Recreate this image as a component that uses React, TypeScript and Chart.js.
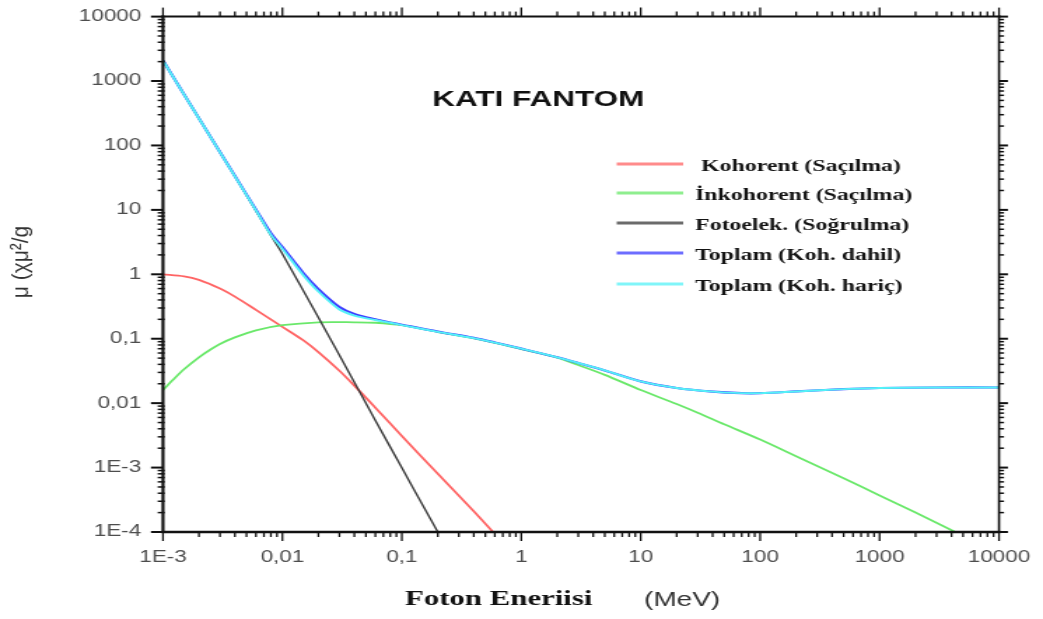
import React, { useEffect, useRef } from "react";
import { Chart, registerables } from "chart.js";

Chart.register(...registerables);

// The reference picture is stretched horizontally; the canvas is drawn narrower and stretched by CSS.
const STRETCH = 1.4;
const PAGE_W = 1043;
const PAGE_H = 619;
const CANVAS_W = Math.round(PAGE_W / STRETCH);

const chartTitle = "KATI FANTOM";
const xTitleMain = "Foton Eneriisi";
const xTitleUnit = "(MeV)";
const yTitle = "μ (χμ²/g";

const xTickValues = [1e-3, 1e-2, 1e-1, 1, 10, 100, 1000, 10000];
const xTickLabels = ["1E-3", "0,01", "0,1", "1", "10", "100", "1000", "10000"];
const yTickValues = [1e-4, 1e-3, 1e-2, 1e-1, 1, 10, 100, 1000, 10000];
const yTickLabels = ["1E-4", "1E-3", "0,01", "0,1", "1", "10", "100", "1000", "10000"];

const seriesLabels = [
  " Kohorent (Saçılma)",
  "İnkohorent (Saçılma)",
  "Fotoelek. (Soğrulma)",
  "Toplam (Koh. dahil)",
  "Toplam (Koh. hariç)",
];
const seriesColors = ["#ff6464", "#6ae86a", "#3a3a3a", "#3c3cff", "#55f2f7"];

// Coherent scattering
const cohE = [0.001, 0.0015, 0.002, 0.003, 0.004, 0.006, 0.01, 0.015, 0.02, 0.03, 0.04, 0.06, 0.1, 0.2, 0.4, 0.58];
const cohMu = [1.0, 0.93, 0.82, 0.6, 0.45, 0.28, 0.153, 0.094, 0.062, 0.0318, 0.0187, 0.0085, 0.0031, 0.0008, 0.00021, 0.0001];

// Incoherent scattering
const incohE = [0.001, 0.0012, 0.0015, 0.002, 0.0025, 0.003, 0.004, 0.006, 0.01, 0.02, 0.04, 0.06, 0.1, 0.2, 0.4, 0.6, 1, 2, 3, 5, 10, 20, 30, 50, 100, 200, 500, 1000, 2000, 4300];
const incohMu = [0.016, 0.0226, 0.0336, 0.0515, 0.068, 0.083, 0.105, 0.135, 0.162, 0.18, 0.18, 0.177, 0.162, 0.127, 0.101, 0.086, 0.069, 0.051, 0.039, 0.0275, 0.016, 0.0097, 0.0071, 0.0047, 0.00272, 0.0015, 0.00068, 0.00037, 0.0002, 0.0001];

// Photoelectric absorption
const photoE = [0.001, 0.002, 0.004, 0.008, 0.01, 0.02, 0.04, 0.06, 0.1, 0.15, 0.2];
const photoMu = [2080, 263, 33.2, 4.0, 2.07, 0.214, 0.0211, 0.0054, 0.00099, 0.000257, 0.0001];

// Totals
const totalE = [0.001, 0.002, 0.004, 0.006, 0.008, 0.01, 0.015, 0.02, 0.03, 0.04, 0.06, 0.08, 0.1, 0.2, 0.4, 0.6, 1, 2, 3, 5, 10, 20, 40, 70, 100, 200, 500, 1000, 3000, 10000];
const totalInclMu = [2080, 263, 33.5, 10.1, 4.35, 2.64, 1.04, 0.59, 0.31, 0.243, 0.2, 0.179, 0.165, 0.129, 0.103, 0.0875, 0.0702, 0.0515, 0.042, 0.0322, 0.0218, 0.0172, 0.0151, 0.0143, 0.0143, 0.0152, 0.0165, 0.0172, 0.0175, 0.0175];
const totalExclMu = [2080, 262, 33, 9.8, 4.1, 2.48, 0.96, 0.54, 0.284, 0.229, 0.195, 0.177, 0.163, 0.128, 0.102, 0.087, 0.07, 0.0515, 0.042, 0.0322, 0.0218, 0.0172, 0.0151, 0.0143, 0.0143, 0.0152, 0.0165, 0.0172, 0.0175, 0.0175];

const toPoints = (xs: number[], ys: number[]) => xs.map((x, i) => ({ x, y: ys[i] }));

const framePlugin = {
  id: "framePlugin",
  afterDatasetsDraw(chart: any) {
    const { ctx, chartArea } = chart;
    const { left, right, top, bottom } = chartArea;
    const xs = chart.scales.x;
    const ys = chart.scales.y;
    const line = (x1: number, y1: number, x2: number, y2: number, w: number) => {
      ctx.lineWidth = w;
      ctx.beginPath();
      ctx.moveTo(x1, y1);
      ctx.lineTo(x2, y2);
      ctx.stroke();
    };
    ctx.save();
    ctx.strokeStyle = "#111";
    ctx.lineCap = "butt";
    // frame
    line(left - 1, top, right + 1, top, 2);
    line(right, top - 1, right, bottom + 1, 1.6);
    line(left - 1, bottom, right + 1, bottom, 2.5);
    line(left, top - 1, left, bottom + 1, 2.2);
    // x ticks
    for (let e = -3; e <= 4; e++) {
      for (let k = 1; k <= 9; k++) {
        if (e === 4 && k > 1) break;
        const v = k * Math.pow(10, e);
        const px = xs.getPixelForValue(v);
        const major = k === 1;
        const len = major ? 9 : 5;
        line(px, bottom, px, bottom + len, 1.3);
        line(px, top, px, top - len, 1.3);
      }
    }
    // y ticks
    for (let e = -4; e <= 4; e++) {
      for (let k = 1; k <= 9; k++) {
        if (e === 4 && k > 1) break;
        const v = k * Math.pow(10, e);
        const py = ys.getPixelForValue(v);
        const major = k === 1;
        line(left - (major ? 8.6 : 3.8), py, left + (major ? 0 : 1.2), py, major ? 2 : 1.5);
        line(right, py, right + (major ? 6.4 : 3.6), py, major ? 2 : 1.5);
      }
    }
    ctx.restore();
  },
  afterDraw(chart: any) {
    const { ctx } = chart;
    ctx.save();
    // inner title
    ctx.fillStyle = "#111";
    ctx.font = 'bold 22.5px "Liberation Sans", Arial, sans-serif';
    ctx.textAlign = "center";
    ctx.textBaseline = "middle";
    ctx.fillText(chartTitle, 384.5, 100);

    // legend
    const rowY = [164, 193, 223, 253, 284];
    ctx.font = 'bold 17px "Liberation Serif", "Times New Roman", serif';
    ctx.textAlign = "left";
    seriesLabels.forEach((lab, i) => {
      ctx.globalAlpha = 0.75;
      ctx.strokeStyle = seriesColors[i];
      ctx.lineWidth = 3;
      ctx.beginPath();
      ctx.moveTo(440.5, rowY[i]);
      ctx.lineTo(488, rowY[i]);
      ctx.stroke();
      ctx.globalAlpha = 1;
      ctx.fillStyle = "#141414";
      ctx.fillText(lab, 496.5, rowY[i] + 3);
    });

    // x title
    ctx.textBaseline = "alphabetic";
    ctx.fillStyle = "#111";
    ctx.font = 'bold 22px "Liberation Serif", "Times New Roman", serif';
    ctx.fillText(xTitleMain, 289.3, 605);
    ctx.fillStyle = "#333";
    ctx.font = '20px "Liberation Sans", Arial, sans-serif';
    ctx.fillText(xTitleUnit, 460, 606);

    // y title
    ctx.save();
    ctx.translate(15.7, 262);
    ctx.rotate(-Math.PI / 2);
    ctx.scale(1, 0.8);
    ctx.fillStyle = "#333";
    ctx.font = '21px "Liberation Sans", Arial, sans-serif';
    ctx.textAlign = "center";
    ctx.textBaseline = "middle";
    ctx.fillText(yTitle, 0, 0);
    ctx.restore();

    ctx.restore();
  },
};

export default function App() {
  const canvasRef = useRef<HTMLCanvasElement | null>(null);

  useEffect(() => {
    const canvas = canvasRef.current;
    if (!canvas) return;
    const plotLeft = 163 / STRETCH;
    const plotRight = 999 / STRETCH;
    const plotTop = 16;
    const plotBottom = 532;

    const mk = (i: number, xsArr: number[], ysArr: number[], order: number, width: number) => ({
      label: seriesLabels[i],
      data: toPoints(xsArr, ysArr),
      borderColor: seriesColors[i],
      backgroundColor: seriesColors[i],
      borderWidth: width,
      pointRadius: 0,
      fill: false,
      tension: 0.3,
      order,
    });

    const chart = new Chart(canvas, {
      type: "line",
      data: {
        datasets: [
          mk(0, cohE, cohMu, 5, 1.8),
          mk(1, incohE, incohMu, 4, 1.8),
          mk(2, photoE, photoMu, 3, 1.4),
          mk(3, totalE, totalInclMu, 2, 2.2),
          mk(4, totalE, totalExclMu, 1, 1.9),
        ],
      },
      plugins: [framePlugin],
      options: {
        responsive: false,
        devicePixelRatio: 1,
        animation: false,
        layout: {
          padding: { left: 0, top: plotTop, right: CANVAS_W - plotRight, bottom: 0 },
        },
        plugins: {
          legend: { display: false },
          tooltip: { enabled: false },
          title: { display: false },
        },
        scales: {
          x: {
            type: "logarithmic",
            min: 1e-3,
            max: 1e4,
            afterBuildTicks: (s: any) => {
              s.ticks = xTickValues.map((v) => ({ value: v, major: true }));
            },
            afterFit: (s: any) => {
              s.height = PAGE_H - plotBottom;
            },
            grid: { display: true, drawOnChartArea: false, drawTicks: true, tickLength: 9, color: "rgba(0,0,0,0)" },
            border: { display: false },
            ticks: {
              autoSkip: false,
              maxRotation: 0,
              padding: 7,
              color: "#4d4d4d",
              font: { family: '"Liberation Sans", Arial, sans-serif', size: 16 },
              callback: (_v: any, i: number) => xTickLabels[i],
            },
          },
          y: {
            type: "logarithmic",
            min: 1e-4,
            max: 1e4,
            afterBuildTicks: (s: any) => {
              s.ticks = yTickValues.map((v) => ({ value: v, major: true }));
            },
            afterFit: (s: any) => {
              s.width = plotLeft;
            },
            grid: { display: true, drawOnChartArea: false, drawTicks: true, tickLength: 8.6, color: "rgba(0,0,0,0)" },
            border: { display: false },
            ticks: {
              autoSkip: false,
              padding: 7,
              color: "#4d4d4d",
              font: { family: '"Liberation Sans", Arial, sans-serif', size: 16 },
              callback: (_v: any, i: number) => yTickLabels[i],
            },
          },
        },
      } as any,
    });
    return () => chart.destroy();
  }, []);

  return (
    <div style={{ position: "absolute", left: 0, top: 0, width: PAGE_W, height: PAGE_H, background: "#fff" }}>
      <canvas
        ref={canvasRef}
        width={CANVAS_W}
        height={PAGE_H}
        style={{ width: PAGE_W + "px", height: PAGE_H + "px", display: "block" }}
      />
    </div>
  );
}
